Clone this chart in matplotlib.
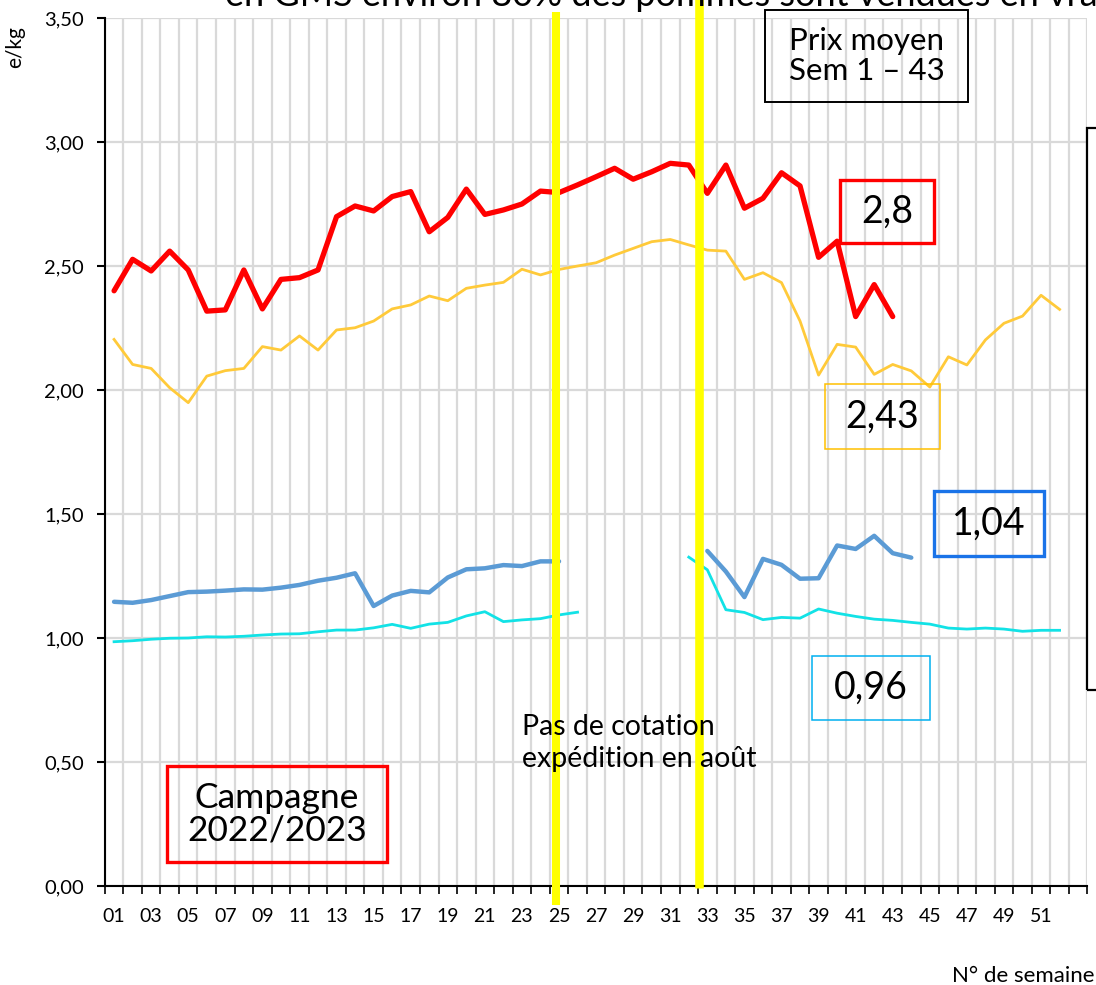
import numpy as np
import matplotlib
matplotlib.use('Agg')
import matplotlib.pyplot as plt
from matplotlib.patches import Rectangle
from matplotlib.ticker import FuncFormatter

plt.rcParams['font.family'] = ['Lato', 'DejaVu Sans']

W, H = 1096, 985

weeks = np.arange(1, 53)
nan = np.nan

# prix campagne 2022/2023 (rouge, épais)
prix_rouge = [2.40, 2.527, 2.48, 2.56, 2.484, 2.318, 2.323, 2.484, 2.327, 2.446,
              2.453, 2.484, 2.699, 2.742, 2.722, 2.78, 2.80, 2.638, 2.696, 2.81,
              2.708, 2.726, 2.75, 2.802, 2.796, 2.827, 2.86, 2.894, 2.85, 2.88,
              2.914, 2.907, 2.793, 2.907, 2.733, 2.773, 2.876, 2.823, 2.535, 2.60,
              2.296, 2.425, 2.296] + [nan] * 9

# campagne précédente (orange, fin)
prix_orange = [2.204, 2.103, 2.087, 2.009, 1.949, 2.056, 2.078, 2.087, 2.175, 2.161,
               2.218, 2.161, 2.242, 2.251, 2.278, 2.327, 2.343, 2.379, 2.360, 2.410,
               2.423, 2.434, 2.487, 2.464, 2.486, 2.50, 2.513, 2.544, 2.571, 2.598,
               2.607, 2.585, 2.564, 2.56, 2.446, 2.473, 2.433, 2.278, 2.060, 2.184,
               2.173, 2.063, 2.103, 2.077, 2.012, 2.134, 2.101, 2.202, 2.269, 2.298,
               2.382, 2.325]

# prix expédition 2022/2023 (bleu, épais)
prix_bleu = [1.146, 1.142, 1.153, 1.169, 1.185, 1.187, 1.191, 1.196, 1.195, 1.203,
             1.214, 1.231, 1.243, 1.261, 1.129, 1.171, 1.19, 1.184, 1.244, 1.277,
             1.281, 1.294, 1.29, 1.309, 1.309] + [nan] * 7 + \
            [1.351, 1.268, 1.165, 1.319, 1.295, 1.239, 1.241, 1.373, 1.359, 1.412,
             1.342, 1.324] + [nan] * 8

# expédition campagne précédente (cyan, fin)
prix_cyan = [0.985, 0.989, 0.995, 0.999, 1.0, 1.005, 1.004, 1.007, 1.012, 1.016,
             1.017, 1.025, 1.032, 1.032, 1.041, 1.055, 1.039, 1.056, 1.063, 1.089,
             1.106, 1.066, 1.073, 1.078, 1.093, 1.104] + [nan] * 5 + \
            [1.326, 1.275, 1.114, 1.103, 1.074, 1.083, 1.080, 1.117, 1.10, 1.087,
             1.076, 1.071, 1.063, 1.056, 1.040, 1.036, 1.040, 1.036, 1.027, 1.031,
             1.031]

week_labels = ['%02d' % w for w in range(1, 52, 2)]


def fx(px):
    return px / W


def fy(py):
    return 1 - py / H


fig = plt.figure(figsize=(W / 100, H / 100), dpi=100)
ax = fig.add_axes([fx(104.8), fy(886), (1087.4 - 104.8) / W, (886 - 18) / H])

ax.plot(weeks, prix_orange, color='#FFCA3A', lw=2.0, solid_joinstyle='round', zorder=3)
ax.plot(weeks, prix_cyan, color='#12E2E6', lw=2.0, solid_joinstyle='round', zorder=3)
ax.plot(weeks, prix_bleu, color='#5B9BD5', lw=3.2, solid_joinstyle='round',
        solid_capstyle='round', zorder=4)
ax.plot(weeks, prix_rouge, color='#FF0000', lw=3.8, solid_joinstyle='round',
        solid_capstyle='round', zorder=5)

# barres jaunes (pas de cotation)
ax.plot([24.84, 24.84], [-0.077, 3.524], color='#FFFF00', lw=5.8, clip_on=False, zorder=6,
        solid_capstyle='butt')
ax.plot([32.55, 32.55], [-0.008, 3.6], color='#FFFF00', lw=6.2, clip_on=False, zorder=6,
        solid_capstyle='butt')

ax.set_xlim(0.5, 53.5)
ax.set_ylim(0, 3.5)
ax.set_yticks(np.arange(0, 3.51, 0.5))
ax.yaxis.set_major_formatter(FuncFormatter(lambda v, p: ('%.2f' % v).replace('.', ',')))
ax.set_xticks(np.arange(0.5, 53.6, 1))
ax.set_xticklabels([])
ax.set_xticks(np.arange(1, 52, 2), minor=True)
ax.set_xticklabels(week_labels, minor=True)

ax.tick_params(axis='y', direction='out', length=6, width=1.5, labelsize=14.5, pad=9)
ax.tick_params(axis='x', which='major', direction='out', length=6, width=1.2)
ax.tick_params(axis='x', which='minor', length=0, labelsize=14, pad=16)

ax.grid(True, which='major', color='#D9D9D9', lw=1.6, zorder=0)
ax.set_axisbelow(True)
for s in ['top', 'right']:
    ax.spines[s].set_visible(False)
ax.spines['left'].set_linewidth(1.5)
ax.spines['bottom'].set_linewidth(1.5)

# titre coupé en haut
fig.text(fx(225), fy(6), 'en GMS environ 80% des pommes sont vendues en vrac',
         fontsize=26, va='baseline', ha='left')

fig.text(fx(15), fy(47), 'e/kg', rotation=90, ha='center', va='center', fontsize=15)
fig.text(fx(1094), fy(976), 'N° de semaine', ha='right', va='center', fontsize=16)


def box(x0, y0, x1, y1, color, lw, text, size, **kw):
    fig.add_artist(Rectangle((fx(x0), fy(y1)), (x1 - x0) / W, (y1 - y0) / H,
                             transform=fig.transFigure, fill=False, ec=color, lw=lw,
                             zorder=10, clip_on=False))
    fig.text(fx((x0 + x1) / 2), fy((y0 + y1) / 2), text, ha='center', va='center',
             fontsize=size, zorder=11, **kw)


box(765, 10, 968, 102, 'black', 1.4, 'Prix moyen\nSem 1 – 43', 22.5, linespacing=1.05)
box(840, 180, 934, 243, '#FF0000', 2.4, '2,8', 27)
box(825, 384, 940, 449, '#FFC000', 1.1, '2,43', 27)
box(934, 491, 1044, 556, '#1A73E8', 2.4, '1,04', 27)
box(812, 656, 930, 720, '#00B0F0', 1.1, '0,96', 27)
box(167, 766, 387, 862, '#FF0000', 2.4, 'Campagne\n2022/2023', 25.5, linespacing=1.0)

# cadre coupé à droite
fig.add_artist(Rectangle((fx(1087), fy(690)), 50 / W, (690 - 128) / H,
                         transform=fig.transFigure, fill=False, ec='black', lw=1.6))

fig.text(fx(522), fy(743), 'Pas de cotation\nexpédition en août', ha='left', va='center',
         fontsize=20.5, linespacing=1.25)

fig.savefig('out.png', dpi=100)
